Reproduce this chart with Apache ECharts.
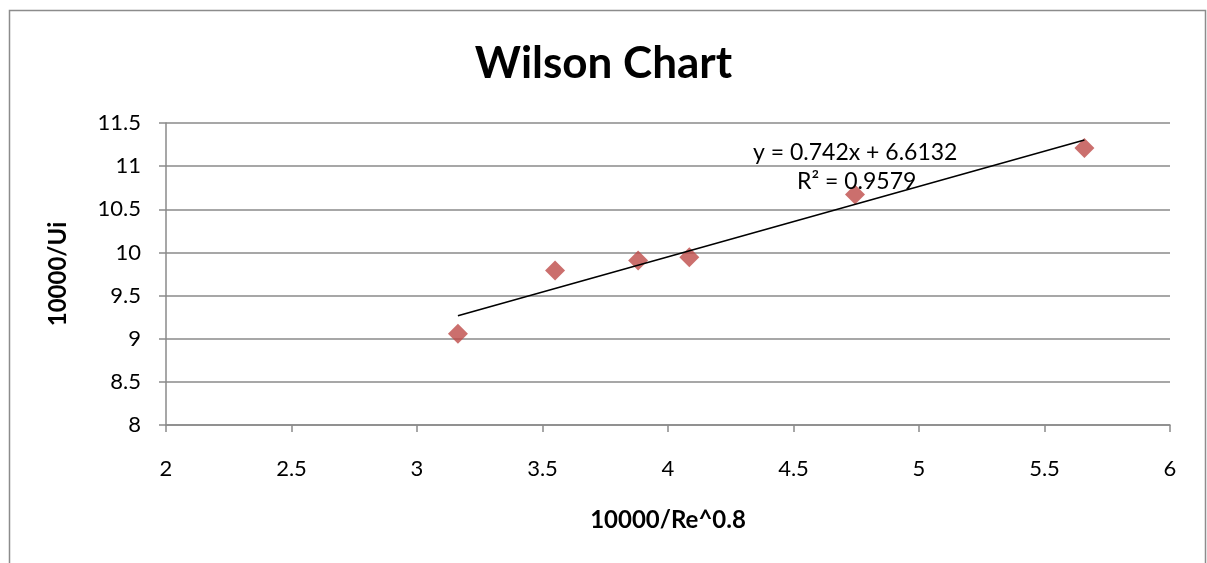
<!DOCTYPE html>
<html>
<head>
<meta charset="utf-8">
<title>Wilson Chart</title>
<script src="https://cdn.jsdelivr.net/npm/echarts@6/dist/echarts.min.js"></script>
<style>
  html, body { margin: 0; padding: 0; background: #ffffff; }
  #chart { width: 1207px; height: 563px; }
</style>
</head>
<body>
<div id="chart"></div>
<script>
// Measured points: x = 10000/Re^0.8, y = 10000/Ui
const xValues = [3.163, 3.550, 3.881, 4.085, 4.745, 5.659];
const yValues = [9.058, 9.790, 9.906, 9.944, 10.670, 11.211];

// Axis tick settings
const xTicks = { min: 2, max: 6, step: 0.5 };
const yTicks = { min: 8, max: 11.5, step: 0.5 };

// Trendline caption
const equationText = 'y = 0.742x + 6.6132';
const rSquaredText = 'R² = 0.9579';

// Least-squares linear fit through the measured points
function linearFit(xs, ys) {
  const n = xs.length;
  const mx = xs.reduce((a, b) => a + b, 0) / n;
  const my = ys.reduce((a, b) => a + b, 0) / n;
  let sxy = 0, sxx = 0;
  for (let i = 0; i < n; i++) {
    sxy += (xs[i] - mx) * (ys[i] - my);
    sxx += (xs[i] - mx) * (xs[i] - mx);
  }
  const slope = sxy / sxx;
  return { slope, intercept: my - slope * mx };
}

const fit = linearFit(xValues, yValues);
const xLo = Math.min(...xValues);
const xHi = Math.max(...xValues);
const trendData = [
  [xLo, fit.slope * xLo + fit.intercept],
  [xHi, fit.slope * xHi + fit.intercept]
];
const points = xValues.map((x, i) => [x, yValues[i]]);

const font = 'Lato, "Open Sans", "DejaVu Sans", sans-serif';
const gridColor = '#8a8a8a';

const chart = echarts.init(document.getElementById('chart'), null, { renderer: 'canvas' });

chart.setOption({
  backgroundColor: '#ffffff',
  animation: false,
  title: {
    text: 'Wilson Chart',
    left: 'center',
    top: 37,
    textStyle: { fontFamily: font, fontSize: 44, fontWeight: 'bold', color: '#000000' }
  },
  grid: { left: 166, right: 37, top: 123, bottom: 138, containLabel: false },
  xAxis: {
    type: 'value',
    min: xTicks.min,
    max: xTicks.max,
    interval: xTicks.step,
    name: '10000/Re^0.8',
    nameLocation: 'middle',
    nameGap: 83,
    nameTextStyle: { fontFamily: font, fontSize: 24, fontWeight: 'bold', color: '#000000' },
    axisLine: { show: true, onZero: false, lineStyle: { color: gridColor, width: 1.5 } },
    axisTick: { show: true, inside: false, length: 7, lineStyle: { color: gridColor, width: 1.5 } },
    axisLabel: { margin: 33, fontFamily: font, fontSize: 22, color: '#000000' },
    splitLine: { show: false }
  },
  yAxis: {
    type: 'value',
    min: yTicks.min,
    max: yTicks.max,
    interval: yTicks.step,
    name: '10000/Ui',
    nameLocation: 'middle',
    nameGap: 96,
    nameRotate: 90,
    nameTextStyle: { fontFamily: font, fontSize: 24, fontWeight: 'bold', color: '#000000' },
    axisLine: { show: true, lineStyle: { color: gridColor, width: 1.5 } },
    axisTick: { show: true, inside: false, length: 7, lineStyle: { color: gridColor, width: 1.5 } },
    axisLabel: { margin: 25, fontFamily: font, fontSize: 22, color: '#000000' },
    splitLine: { show: true, lineStyle: { color: gridColor, width: 1.5 } }
  },
  series: [
    {
      name: 'trend',
      type: 'line',
      data: trendData,
      symbol: 'none',
      lineStyle: { color: '#000000', width: 1.6 },
      z: 3,
      silent: true
    },
    {
      name: 'points',
      type: 'scatter',
      data: points,
      symbol: 'diamond',
      symbolSize: [20, 20],
      itemStyle: { color: '#BE4B48' },
      z: 2
    }
  ],
  graphic: [
    {
      type: 'rect',
      shape: { x: 9.5, y: 10.5, width: 1196, height: 600 },
      style: { fill: 'none', stroke: '#8c8c8c', lineWidth: 1.5 },
      silent: true,
      z: -10
    },
    {
      type: 'text',
      left: 753,
      top: 141,
      style: { text: equationText, fontFamily: font, fontSize: 23, fill: '#000000' },
      z: 10
    },
    {
      type: 'text',
      left: 797,
      top: 170,
      style: { text: rSquaredText, fontFamily: font, fontSize: 23, fill: '#000000' },
      z: 10
    }
  ]
});
</script>
</body>
</html>
